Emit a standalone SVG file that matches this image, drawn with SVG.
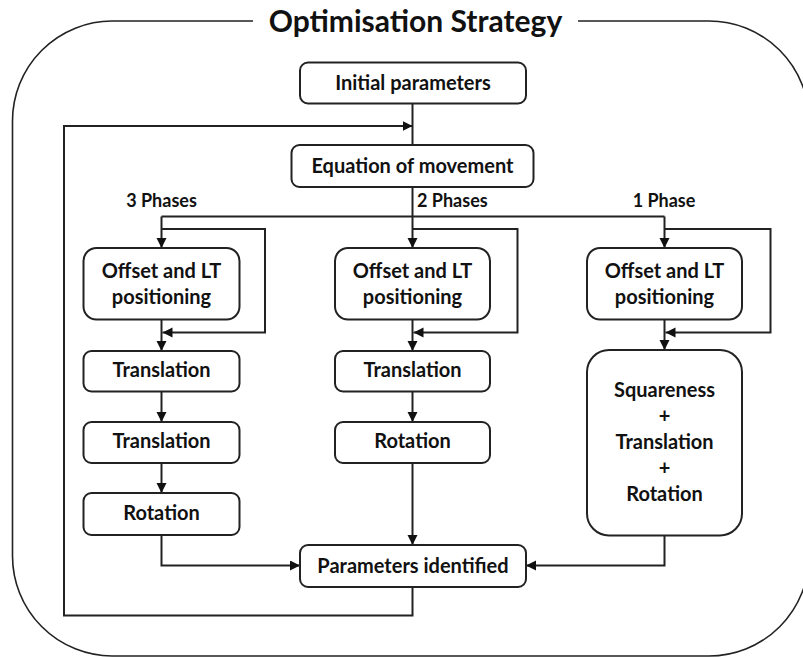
<svg xmlns="http://www.w3.org/2000/svg" width="803" height="657" viewBox="0 0 803 657">
<style>
  .frame { fill: none; stroke: #222; stroke-width: 1.6; }
  .box { fill: #fff; stroke: #222; stroke-width: 2; }
  .txt { font-family: Lato, "Open Sans", sans-serif; font-weight: bold; font-size: 20px; fill: #111; text-anchor: middle; }
  .title { font-family: Lato, "Open Sans", sans-serif; font-weight: bold; font-size: 30px; fill: #111; text-anchor: middle; }
  .lbl { font-family: Lato, "Open Sans", sans-serif; font-weight: bold; font-size: 18px; fill: #111; }
  .ln { fill: none; stroke: #222; stroke-width: 2; }
  .arr { marker-end: url(#ah); }
</style>
<defs>
  <marker id="ah" markerUnits="userSpaceOnUse" markerWidth="11" markerHeight="11" refX="10" refY="5" orient="auto">
    <path d="M0,0 L10,5 L0,10 z" fill="#111"/>
  </marker>
</defs>
<rect width="803" height="657" fill="#fff"/>

<g id="frame">
  <path class="frame" d="M253 21 H112 A100 100 0 0 0 12.5 121 V556 A100 100 0 0 0 112 656 H709 A100 100 0 0 0 809 556 V121 A100 100 0 0 0 709 21 H578"/>
  <text class="title" x="415.5" y="32">Optimisation Strategy</text>
</g>

<g id="connectors">
  <path class="ln" d="M412.5 103 V145"/>
  <path class="ln arr" d="M412.5 587 V615.5 H64 V126 H412.5"/>
  <path class="ln" d="M412.5 187 V216.5"/>
  <path class="ln" d="M161.5 216.5 H664.5"/>
  <path class="ln arr" d="M161.5 216.5 V248"/>
  <path class="ln arr" d="M412.5 216.5 V248"/>
  <path class="ln arr" d="M664.5 216.5 V248"/>
  <path class="ln arr" d="M161.5 229 H265 V332.5 H162.5"/>
  <path class="ln arr" d="M412.5 229 H517.5 V332.5 H413.5"/>
  <path class="ln arr" d="M664.5 229 H770.5 V332.5 H665.5"/>
  <path class="ln arr" d="M161.5 319.5 V351"/>
  <path class="ln arr" d="M161.5 391.5 V422"/>
  <path class="ln arr" d="M161.5 463 V493"/>
  <path class="ln arr" d="M161.5 535 V565.5 H300"/>
  <path class="ln arr" d="M412.5 319.5 V351"/>
  <path class="ln arr" d="M412.5 391.5 V422"/>
  <path class="ln arr" d="M412.5 463 V545"/>
  <path class="ln arr" d="M664.5 319.5 V350"/>
  <path class="ln arr" d="M664.5 535.5 V565.5 H526"/>
</g>

<g id="labels">
  <text class="lbl" x="161.5" y="207" text-anchor="middle">3 Phases</text>
  <text class="lbl" x="417" y="207">2 Phases</text>
  <text class="lbl" x="664" y="207" text-anchor="middle">1 Phase</text>
</g>

<g id="initial">
  <rect class="box" x="300" y="62.5" width="226" height="41" rx="8"/>
  <text class="txt" x="413" y="90">Initial parameters</text>
</g>
<g id="equation">
  <rect class="box" x="291.5" y="145" width="242" height="42" rx="8"/>
  <text class="txt" x="412.5" y="173">Equation of movement</text>
</g>

<g id="offset3">
  <rect class="box" x="83.5" y="248" width="156" height="71.5" rx="13"/>
  <text class="txt" x="161.5" y="278">Offset and LT</text>
  <text class="txt" x="161.5" y="304">positioning</text>
</g>
<g id="trans3a">
  <rect class="box" x="83.5" y="351" width="156" height="40.5" rx="8"/>
  <text class="txt" x="161.5" y="377">Translation</text>
</g>
<g id="trans3b">
  <rect class="box" x="83.5" y="422" width="156" height="41" rx="8"/>
  <text class="txt" x="161.5" y="448">Translation</text>
</g>
<g id="rot3">
  <rect class="box" x="83.5" y="493" width="156" height="42" rx="8"/>
  <text class="txt" x="161.5" y="520">Rotation</text>
</g>

<g id="offset2">
  <rect class="box" x="335" y="248" width="155" height="71.5" rx="13"/>
  <text class="txt" x="412.5" y="278">Offset and LT</text>
  <text class="txt" x="412.5" y="304">positioning</text>
</g>
<g id="trans2">
  <rect class="box" x="335" y="351" width="155" height="40.5" rx="8"/>
  <text class="txt" x="412.5" y="377">Translation</text>
</g>
<g id="rot2">
  <rect class="box" x="335" y="422" width="155" height="41" rx="8"/>
  <text class="txt" x="412.5" y="448">Rotation</text>
</g>

<g id="offset1">
  <rect class="box" x="587" y="248" width="155" height="71.5" rx="13"/>
  <text class="txt" x="664.5" y="278">Offset and LT</text>
  <text class="txt" x="664.5" y="304">positioning</text>
</g>
<g id="combined1">
  <rect class="box" x="587" y="350" width="155" height="185.5" rx="22"/>
  <text class="txt" x="664.5" y="397">Squareness</text>
  <text class="txt" x="664.5" y="423">+</text>
  <text class="txt" x="664.5" y="449">Translation</text>
  <text class="txt" x="664.5" y="475">+</text>
  <text class="txt" x="664.5" y="501">Rotation</text>
</g>

<g id="identified">
  <rect class="box" x="300" y="545" width="226" height="42" rx="8"/>
  <text class="txt" x="413" y="573">Parameters identified</text>
</g>
</svg>
